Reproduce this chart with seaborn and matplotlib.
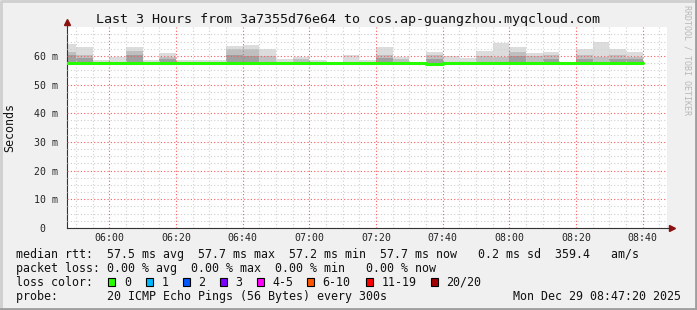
import numpy as np
import pandas as pd
import matplotlib
matplotlib.use("Agg")
import matplotlib.pyplot as plt
import matplotlib.dates as mdates
from matplotlib.lines import Line2D
from matplotlib.patches import Rectangle
import matplotlib.ticker as mticker
import seaborn as sns

# ---------------- data ----------------
bar_start = pd.date_range("2025-12-29 05:45", periods=35, freq="5min")
median_ms = [57.7, 57.7, 57.6, 57.6, 57.7, 57.6, 57.5, 57.6, 57.6, 57.6,
             57.5, 57.5, 57.6, 57.6, 57.5, 57.4, 57.4, 57.5, 57.6, 57.6,
             57.5, 57.6, 57.2, 57.6, 57.6, 57.5, 57.6, 57.6, 57.6, 57.5,
             57.5, 57.4, 57.6, 57.5, 57.7]
smoke_lo = [57.4, 57.4, 57.3, 57.3, 57.4, 57.3, 57.2, 57.3, 57.3, 57.3,
            57.2, 57.2, 57.3, 57.3, 57.2, 57.1, 57.2, 57.2, 57.3, 57.3,
            57.2, 57.4, 56.9, 57.3, 57.3, 57.2, 57.3, 57.3, 57.3, 57.2,
            57.3, 57.1, 57.3, 57.2, 57.4]
smoke_max = [64.3, 63.2, 58.7, 59.6, 63.0, 58.5, 61.1, 58.5, 58.5, 58.6,
             63.4, 64.0, 62.4, 59.0, 59.8, 58.6, 57.8, 60.3, 58.6, 63.2,
             59.8, 57.9, 61.5, 60.1, 59.2, 61.9, 64.4, 63.0, 61.0, 61.3,
             57.9, 62.4, 64.9, 62.4, 61.4]
smoke_mid = [61.5, 60.2, np.nan, np.nan, 61.9, np.nan, 59.8, np.nan, np.nan, np.nan,
             62.6, 62.3, 60.0, np.nan, 59.0, np.nan, np.nan, np.nan, np.nan, 60.3,
             59.0, np.nan, 60.3, np.nan, np.nan, 59.9, 59.8, 61.5, 60.0, 60.3,
             np.nan, 60.3, 59.8, 60.3, 59.8]
smoke_dark = [60.2, 59.2, np.nan, np.nan, 60.2, np.nan, 59.0, np.nan, np.nan, np.nan,
              60.2, 60.0, np.nan, np.nan, np.nan, np.nan, np.nan, np.nan, np.nan, 59.2,
              np.nan, np.nan, 58.8, np.nan, np.nan, np.nan, np.nan, 60.1, np.nan, 59.0,
              np.nan, 59.0, np.nan, 59.0, 59.0]

y_major = [0, 10, 20, 30, 40, 50, 60]
y_labels = ["0  ", "10 m", "20 m", "30 m", "40 m", "50 m", "60 m"]
y_minor = [v + d for v in range(0, 70, 10) for d in (2.5, 5.0, 7.5)]

title = "Last 3 Hours from 3a7355d76e64 to cos.ap-guangzhou.myqcloud.com"
legend_rows = [
    "median rtt:  57.5 ms avg  57.7 ms max  57.2 ms min  57.7 ms now   0.2 ms sd  359.4   am/s",
    "packet loss: 0.00 % avg  0.00 % max  0.00 % min   0.00 % now",
    "loss color:",
    "probe:       20 ICMP Echo Pings (56 Bytes) every 300s",
]
loss_labels = ["0", "1", "2", "3", "4-5", "6-10", "11-19", "20/20"]
loss_colors = ["#26ff00", "#00b8ff", "#0059ff", "#7e00ff", "#ff00ff", "#ff5500", "#ff0000", "#a00000"]
loss_box_x = [108.3, 145.7, 182.7, 219.7, 256.7, 307.0, 365.7, 431.0]
date_text = "Mon Dec 29 08:47:20 2025"

# ---------------- style ----------------
sns.set_style("white")
MONO = ["DejaVu Sans Mono", "DejaVu Sans"]
plt.rcParams["font.family"] = MONO

W, H = 697, 310
fig = plt.figure(figsize=(W / 100, H / 100), dpi=100, facecolor="#f0f0f0")
ax = fig.add_axes([67 / W, (H - 228) / H, 600 / W, (228 - 27.3) / H])
ax.set_facecolor("white")

x0 = mdates.date2num(pd.Timestamp("2025-12-29 05:47:20"))
x1 = mdates.date2num(pd.Timestamp("2025-12-29 08:47:20"))
xs = mdates.date2num(bar_start)
bw = 5 / 1440.0

med = np.array(median_ms)
lo = np.array(smoke_lo)
mx = np.array(smoke_max)
md = np.array(smoke_mid)
dk = np.array(smoke_dark)

ax.bar(xs, mx - lo, bottom=lo, width=bw, align="edge", color="#dcdcdc", lw=0, zorder=1)
ok = ~np.isnan(md)
ax.bar(xs[ok], (md - lo)[ok], bottom=lo[ok], width=bw, align="edge", color="#bfbfbf", lw=0, zorder=1.1)
ok = ~np.isnan(dk)
ax.bar(xs[ok], (dk - lo)[ok], bottom=lo[ok], width=bw, align="edge", color="#a0a0a0", lw=0, zorder=1.2)

# median step line (extended to end of last interval)
step_x = list(bar_start) + [bar_start[-1] + pd.Timedelta(minutes=5)]
step_y = list(median_ms) + [median_ms[-1]]
df = pd.DataFrame({"t": mdates.date2num(step_x), "ms": step_y})
sns.lineplot(data=df, x="t", y="ms", ax=ax, color=loss_colors[0], lw=2.2,
             drawstyle="steps-post", estimator=None, sort=False, zorder=3)

ax.set_xlim(x0, x1)
ax.set_ylim(0, 70)
ax.set_xlabel("")
ax.set_ylabel("")

ax.xaxis.set_major_locator(mdates.MinuteLocator(byminute=[0, 20, 40]))
ax.xaxis.set_minor_locator(mdates.MinuteLocator(byminute=range(0, 60, 5)))
ax.xaxis.set_major_formatter(mdates.DateFormatter("%H:%M"))
ax.yaxis.set_major_locator(mticker.FixedLocator(y_major))
ax.yaxis.set_major_formatter(mticker.FixedFormatter(y_labels))
ax.yaxis.set_minor_locator(mticker.FixedLocator(y_minor))

ax.grid(which="major", color=(1, 0.35, 0.35, 0.55), linestyle=(0, (1, 2)), lw=0.8)
ax.grid(which="minor", color="#cfcfcf", linestyle=(0, (1, 2)), lw=0.8)
ax.set_axisbelow(False)

for s in ("top", "right"):
    ax.spines[s].set_visible(False)
for s in ("left", "bottom"):
    ax.spines[s].set_color("#333333")
    ax.spines[s].set_linewidth(0.8)

ax.tick_params(axis="x", which="major", direction="inout", length=3, width=0.8,
               color="#ff6060", labelsize=7.1, pad=2.0, labelcolor="#222222")
ax.tick_params(axis="x", which="minor", direction="inout", length=2, width=0.8, color="#aaaaaa")
ax.tick_params(axis="y", which="major", direction="inout", length=3, width=0.8,
               color="#ff6060", labelsize=7.1, pad=5, labelcolor="#222222")
ax.tick_params(axis="y", which="minor", direction="inout", length=2, width=0.8, color="#aaaaaa")
for lab in ax.get_xticklabels() + ax.get_yticklabels():
    lab.set_family(MONO)

# axis arrows
arrow_c = "#8b1010"
ax.plot([0, 0], [1.0, 1.02], transform=ax.transAxes, color="#333333", lw=0.8, clip_on=False)
ax.plot([0], [1.025], marker="^", ms=5, color=arrow_c, transform=ax.transAxes, clip_on=False)
ax.plot([1.0, 1.006], [0, 0], transform=ax.transAxes, color="#333333", lw=0.8, clip_on=False)
ax.plot([1.008], [0], marker=">", ms=5, color=arrow_c, transform=ax.transAxes, clip_on=False)

# texts
fig.text(348.5 / W, 1 - 19 / H, title, ha="center", va="center", fontsize=9.6, color="#111111")
fig.text(10 / W, 1 - 128 / H, "Seconds", rotation=90, ha="center", va="center", fontsize=8.4, color="#111111")
fig.text(687 / W, 1 - 60 / H, "RRDTOOL / TOBI OETIKER", rotation=-90, ha="center", va="center",
         fontsize=6.0, color="#b8b8b8")

row_y = [254.3, 268.3, 282.3, 296.3]
for txt, yy in zip(legend_rows, row_y):
    fig.text(16 / W, 1 - yy / H, txt, ha="left", va="center", fontsize=8.4, color="#111111")
fig.text(681 / W, 1 - row_y[3] / H, date_text, ha="right", va="center", fontsize=8.4, color="#111111")

for bx, lab, col in zip(loss_box_x, loss_labels, loss_colors):
    fig.add_artist(Rectangle((bx / W, 1 - 286.3 / H), 7 / W, 8 / H, transform=fig.transFigure,
                             facecolor=col, edgecolor="black", lw=0.8))
    fig.text((bx + 15.5) / W, 1 - row_y[2] / H, lab, ha="left", va="center", fontsize=8.4, color="#111111")

# 3D frame
fig.add_artist(Line2D([0.5 / W, 0.5 / W, 1], [0, 1 - 0.5 / H, 1 - 0.5 / H], transform=fig.transFigure,
                      color="#cfcfcf", lw=2))
fig.add_artist(Line2D([0, 1 - 1.5 / W, 1 - 1.5 / W], [1.5 / H, 1.5 / H, 1], transform=fig.transFigure,
                      color="#9e9e9e", lw=2))

fig.savefig("out.png", dpi=100, facecolor=fig.get_facecolor())
